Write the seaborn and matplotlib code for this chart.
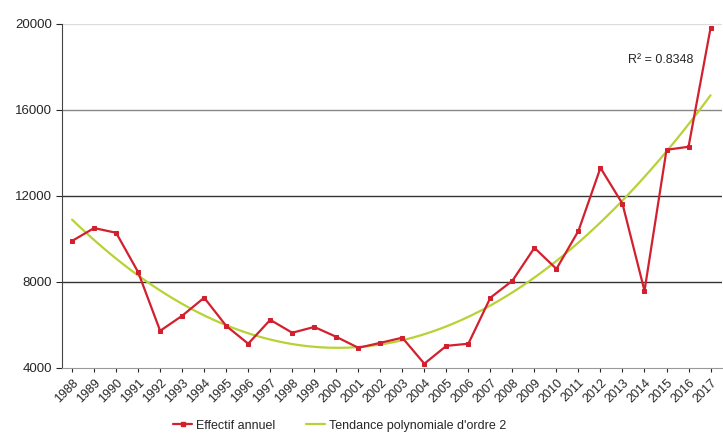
import numpy as np
import pandas as pd
import seaborn as sns
import matplotlib.pyplot as plt
from matplotlib.lines import Line2D

years = list(range(1988, 2018))
effectif = [9900, 10500, 10280, 8450, 5720, 6420, 7260, 5950, 5120, 6230,
            5630, 5900, 5440, 4930, 5160, 5400, 4190, 5020, 5120, 7260,
            8050, 9580, 8600, 10370, 13300, 11630, 7580, 14140, 14280, 19800]
r2_label = "R² = 0.8348"

df = pd.DataFrame({"annee": years, "effectif": effectif})

sns.set_style("white")
plt.rcParams['font.family'] = ['Liberation Sans', 'DejaVu Sans']

fig = plt.figure(figsize=(7.23, 4.41), dpi=100)
ax = fig.add_axes([0.086, 0.166, 0.912, 0.780])

red = "#d2202f"
green = "#b8d236"

# polynomial trend of order 2
sns.regplot(data=df, x="annee", y="effectif", order=2, ci=None, scatter=False,
            truncate=True, ax=ax, line_kws={"color": green, "lw": 1.6, "zorder": 2})
sns.lineplot(data=df, x="annee", y="effectif", color=red, lw=1.6, marker="s",
             markersize=3.5, markeredgecolor=red, ax=ax, zorder=3)

ax.set_xlim(1987.55, 2017.5)
ax.set_ylim(4000, 20000)
ax.set_yticks([4000, 8000, 12000, 16000, 20000])
ax.set_xticks(years)
ax.set_xticklabels([str(y) for y in years], rotation=45, ha="right",
                   rotation_mode="anchor", fontsize=9)
ax.tick_params(axis="y", labelsize=9.5, length=4, direction="out", left=True)
ax.tick_params(axis="x", length=3, direction="out", bottom=True)
ax.set_xlabel("")
ax.set_ylabel("")

for v, c in [(8000, "#333333"), (12000, "#333333"), (16000, "#888888"), (20000, "#dddddd")]:
    ax.axhline(v, color=c, lw=1.0, zorder=1)

sns.despine(ax=ax, top=True, right=True)
ax.spines["left"].set_color("#444444")
ax.spines["bottom"].set_color("#999999")

ax.text(0.907, 0.895, r2_label, transform=ax.transAxes, ha="center",
        va="center", fontsize=9)

handles = [Line2D([], [], color=red, lw=1.6, marker="s", markersize=3.5),
           Line2D([], [], color=green, lw=1.6)]
fig.legend(handles, ["Effectif annuel", "Tendance polynomiale d'ordre 2"],
           loc="center", bbox_to_anchor=(0.47, 0.035), ncol=2, frameon=False,
           fontsize=9, handlelength=1.5, columnspacing=2.5, handletextpad=0.3)

fig.savefig("out.png", dpi=100)
